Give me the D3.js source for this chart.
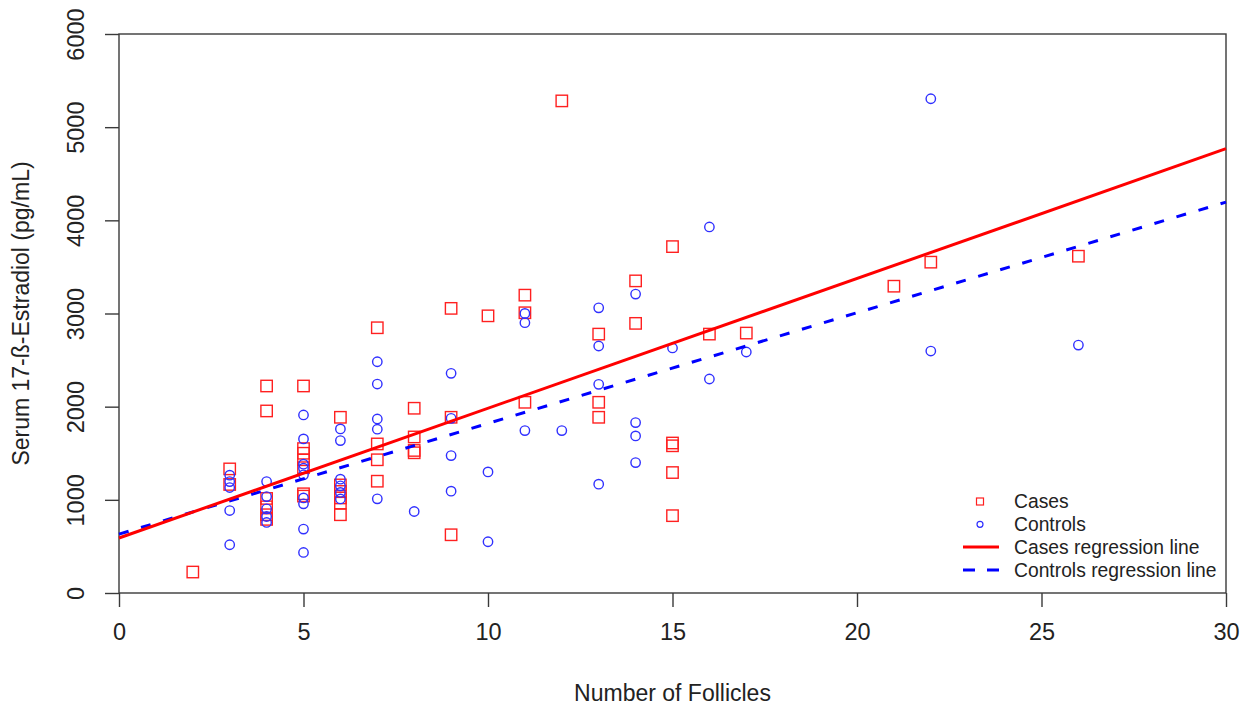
<!DOCTYPE html>
<html>
<head>
<meta charset="utf-8">
<script src="https://cdn.jsdelivr.net/npm/d3@7"></script>
<style>
  body { margin: 0; background: #fff; }
  text { font-family: Arial, "Liberation Sans", sans-serif; fill: #222; }
</style>
</head>
<body>
<div id="chart"></div>
<script>
// ========== Data ==========
const casesFollicles = [
  2, 3, 3, 4, 4, 4, 4, 4, 4,
  5, 5, 5, 5, 5, 5, 5, 6, 6, 6, 6, 6, 6,
  7, 7, 7, 7, 8, 8, 8, 8, 9, 9, 9, 10,
  11, 11, 11, 12, 13, 13, 13, 14, 14,
  15, 15, 15, 15, 15, 16, 17, 21, 22, 26,
];
const casesEstradiol = [
  225, 1332, 1165, 2222, 1954, 1015, 925, 840, 790,
  2222, 1550, 1500, 1430, 1345, 1065, 1040, 1886, 1160, 1090, 1020, 965, 840,
  2847, 1600, 1430, 1200, 1983, 1675, 1530, 1505, 3055, 1886, 625, 2975,
  3197, 3008, 2047, 5282, 2779, 2047, 1886, 3350, 2894,
  3718, 1610, 1580, 1293, 830, 2779, 2790, 3293, 3551, 3615,
];

const controlsFollicles = [
  3, 3, 3, 3, 3, 4, 4, 4, 4, 4,
  5, 5, 5, 5, 5, 5, 5, 5, 5, 6, 6, 6, 6, 6, 6,
  7, 7, 7, 7, 7, 8, 9, 9, 9, 9, 10, 10,
  11, 11, 11, 12, 13, 13, 13, 13, 14, 14, 14, 14,
  15, 16, 16, 17, 22, 22, 26,
];
const controlsEstradiol = [
  1265, 1196, 1132, 885, 518, 1196, 1035, 903, 821, 757,
  1911, 1654, 1383, 1340, 1268, 1021, 957, 686, 435, 1761, 1636, 1222, 1150, 1080, 1010,
  2482, 2243, 1868, 1758, 1011, 875, 2358, 1875, 1475, 1093, 1300, 550,
  3001, 2901, 1743, 1743, 3061, 2651, 2240, 1168, 3208, 1829, 1686, 1400,
  2630, 3929, 2297, 2587, 5305, 2597, 2661,
];

// regression lines: [intercept, slope]
const casesFit = [590, 139.3];
const controlsFit = [632, 118.8];

const xTicks = [0, 5, 10, 15, 20, 25, 30];
const yTicks = [0, 1000, 2000, 3000, 4000, 5000, 6000];
const legendLabels = ["Cases", "Controls", "Cases regression line", "Controls regression line"];

// ========== Entry Point ==========
document.addEventListener("DOMContentLoaded", () => {
  renderScatter();
});

// ========== Render ==========
function renderScatter() {
  const width = 1249;
  const height = 711;
  const margin = { top: 34, right: 23, bottom: 118, left: 119 };
  const axisColor = "#3a3a3a";

  const svg = d3
    .select("#chart")
    .append("svg")
    .attr("width", width)
    .attr("height", height);

  const x = d3.scaleLinear().domain([0, 30]).range([margin.left, width - margin.right]);
  const y = d3.scaleLinear().domain([0, 6000]).range([height - margin.bottom, margin.top]);

  // Axes
  const xAxis = svg
    .append("g")
    .attr("transform", `translate(0,${height - margin.bottom})`)
    .call(d3.axisBottom(x).tickValues(xTicks).tickSize(14).tickPadding(16).tickFormat(d3.format("d")));

  const yAxis = svg
    .append("g")
    .attr("transform", `translate(${margin.left},0)`)
    .call(d3.axisLeft(y).tickValues(yTicks).tickSize(14).tickFormat(d3.format("d")));

  [xAxis, yAxis].forEach((g) => {
    g.select(".domain").remove();
    g.selectAll(".tick line").attr("stroke", axisColor).attr("stroke-width", 1.4);
    g.selectAll(".tick text").style("font-size", "23.5px").attr("fill", "#222");
  });

  // rotated y tick labels, like R's default
  yAxis
    .selectAll(".tick text")
    .attr("x", null)
    .attr("dy", null)
    .attr("text-anchor", "middle")
    .attr("transform", "translate(-35,0) rotate(-90)");

  // Box
  svg
    .append("rect")
    .attr("x", x(0))
    .attr("y", y(6000))
    .attr("width", x(30) - x(0))
    .attr("height", y(0) - y(6000))
    .attr("fill", "none")
    .attr("stroke", axisColor)
    .attr("stroke-width", 1.4);

  // Axis labels
  svg
    .append("text")
    .attr("x", (x(0) + x(30)) / 2)
    .attr("y", 701)
    .attr("text-anchor", "middle")
    .style("font-size", "23px")
    .text("Number of Follicles");

  svg
    .append("text")
    .attr("transform", `translate(29,${(y(0) + y(6000)) / 2}) rotate(-90)`)
    .attr("text-anchor", "middle")
    .style("font-size", "23px")
    .text("Serum 17-ß-Estradiol (pg/mL)");

  // Points
  const cases = casesFollicles.map((f, i) => ({ f, e: casesEstradiol[i] }));
  const controls = controlsFollicles.map((f, i) => ({ f, e: controlsEstradiol[i] }));

  svg
    .append("g")
    .selectAll("rect")
    .data(cases)
    .join("rect")
    .attr("x", (d) => x(d.f) - 5.7)
    .attr("y", (d) => y(d.e) - 5.7)
    .attr("width", 11.4)
    .attr("height", 11.4)
    .attr("fill", "none")
    .attr("stroke", "#ff2020")
    .attr("stroke-width", 1.4);

  svg
    .append("g")
    .selectAll("circle")
    .data(controls)
    .join("circle")
    .attr("cx", (d) => x(d.f))
    .attr("cy", (d) => y(d.e))
    .attr("r", 4.7)
    .attr("fill", "none")
    .attr("stroke", "#3030ff")
    .attr("stroke-width", 1.4);

  // Regression lines
  const line = d3
    .line()
    .x((d) => x(d[0]))
    .y((d) => y(d[1]));

  const fitPoints = (fit) => [0, 30].map((f) => [f, fit[0] + fit[1] * f]);

  svg
    .append("path")
    .datum(fitPoints(controlsFit))
    .attr("fill", "none")
    .attr("stroke", "#0000ff")
    .attr("stroke-width", 3)
    .attr("stroke-dasharray", "10,13")
    .attr("d", line);

  svg
    .append("path")
    .datum(fitPoints(casesFit))
    .attr("fill", "none")
    .attr("stroke", "#ff0000")
    .attr("stroke-width", 3)
    .attr("d", line);

  // Legend
  const legend = svg.append("g").attr("transform", "translate(963,501.5)");
  const rowGap = 22.8;

  legend
    .append("rect")
    .attr("x", 17 - 3.5)
    .attr("y", -3.5)
    .attr("width", 7)
    .attr("height", 7)
    .attr("fill", "none")
    .attr("stroke", "#ff2020")
    .attr("stroke-width", 1.2);

  legend
    .append("circle")
    .attr("cx", 17)
    .attr("cy", rowGap)
    .attr("r", 3)
    .attr("fill", "none")
    .attr("stroke", "#3030ff")
    .attr("stroke-width", 1.2);

  legend
    .append("line")
    .attr("x1", 0)
    .attr("x2", 36)
    .attr("y1", rowGap * 2)
    .attr("y2", rowGap * 2)
    .attr("stroke", "#ff0000")
    .attr("stroke-width", 3);

  legend
    .append("line")
    .attr("x1", 0)
    .attr("x2", 36)
    .attr("y1", rowGap * 3)
    .attr("y2", rowGap * 3)
    .attr("stroke", "#0000ff")
    .attr("stroke-width", 3)
    .attr("stroke-dasharray", "12,12");

  legend
    .selectAll("text.legend-label")
    .data(legendLabels)
    .join("text")
    .attr("class", "legend-label")
    .attr("x", 51)
    .attr("y", (d, i) => i * rowGap)
    .attr("dy", "0.35em")
    .style("font-size", "19.3px")
    .text((d) => d);
}
</script>
</body>
</html>
